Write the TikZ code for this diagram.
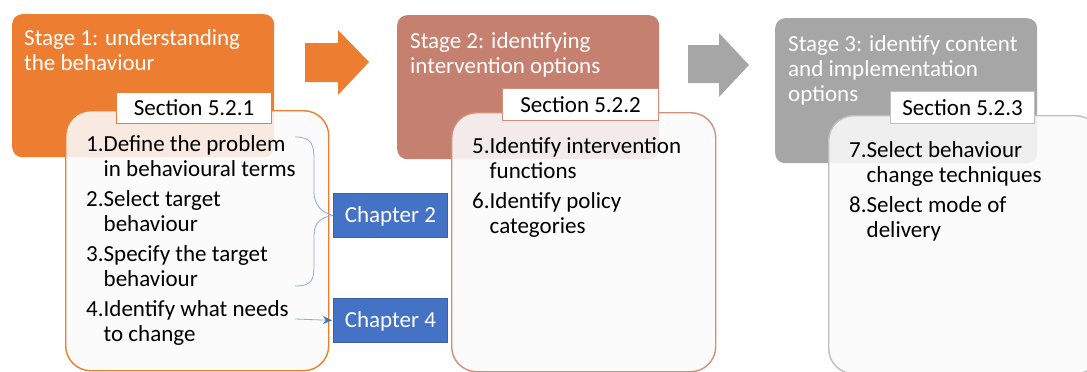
\documentclass[tikz,border=0pt]{standalone}
\usepackage{fontspec}
\setmainfont{Carlito}
\usetikzlibrary{arrows.meta}

\definecolor{orng}{RGB}{237,125,49}
\definecolor{salmon}{RGB}{197,128,111}
\definecolor{salmonline}{RGB}{214,142,124}
\definecolor{stagegray}{RGB}{166,166,166}
\definecolor{grayline}{RGB}{191,191,191}
\definecolor{chblue}{RGB}{68,114,196}
\definecolor{bracecol}{RGB}{143,170,220}

\begin{document}
\begin{tikzpicture}[x=1pt,y=-1pt,
  stagebox/.style={rounded corners=10pt, draw=none, anchor=north west, inner sep=0pt},
  listbox/.style={rounded corners=25pt, line width=1.4pt, fill=black!2, fill opacity=0.88,
    anchor=north west, inner sep=0pt},
  secbox/.style={fill=white, line width=1.2pt, inner sep=0pt, anchor=north west,
    font=\fontsize{23}{25}\selectfont, text height=15pt, text depth=0pt},
  chbox/.style={fill=chblue, draw=chblue!85!black, line width=0.8pt, inner sep=0pt,
    anchor=north west, text=white, minimum width=114, minimum height=44,
    font=\fontsize{23}{25}\selectfont, text height=15pt, text depth=0pt},
  txt/.style={font=\fontsize{23}{25}\selectfont, inner sep=0pt, anchor=base west},
  head/.style={txt, text=white},
  brace/.style={draw=bracecol, line width=0.8pt}
]
\useasboundingbox (0,0) rectangle (1087,372);
\clip (0,0) rectangle (1087,372);

% stage headers
\node[stagebox, fill=orng, minimum width=262, minimum height=143] (st1) at (12,14) {};
\node[stagebox, fill=salmon, minimum width=262, minimum height=144] (st2) at (397,15) {};
\node[stagebox, fill=stagegray, minimum width=262, minimum height=145] (st3) at (775,18) {};

\node[head] (h1a) at (24,45) {Stage 1: understanding};
\node[head] (h1b) at (24,70) {the behaviour};
\node[head] (h2a) at (410,48) {Stage 2: identifying};
\node[head] (h2b) at (410,73) {intervention options};
\node[head] (h3a) at (788,51.5) {Stage 3: identify content};
\node[head] (h3b) at (788,76.5) {and implementation};
\node[head] (h3c) at (788,101.5) {options};

% block arrows between stages
\fill[orng] (305,43) -- (338,43) -- (338,30) -- (369,62) -- (338,95) -- (338,82) -- (305,82) -- cycle;
\fill[stagegray] (688,45) -- (719,45) -- (719,33) -- (749,65) -- (719,97) -- (719,83) -- (688,83) -- cycle;

% step lists
\node[listbox, draw=orng, minimum width=263, minimum height=260] (l1) at (65,110) {};
\node[listbox, draw=salmonline, minimum width=264, minimum height=259] (l2) at (451,112) {};
\node[listbox, draw=grayline, minimum width=272, minimum height=258] (l3) at (828,115) {};

% section labels
\node[secbox, draw=orng, minimum width=155, minimum height=31] (sec1) at (116,92) {Section 5.2.1};
\node[secbox, draw=salmonline, minimum width=156, minimum height=32] (sec2) at (502,88) {Section 5.2.2};
\node[secbox, draw=grayline, minimum width=144, minimum height=32] (sec3) at (890,91) {Section 5.2.3};

% stage 1 steps
\node[txt] (i1a) at (86,151) {1.Define the problem};
\node[txt] (i1b) at (103.5,176) {in behavioural terms};
\node[txt] (i2a) at (86,206) {2.Select target};
\node[txt] (i2b) at (103.5,231) {behaviour};
\node[txt] (i3a) at (86,261) {3.Specify the target};
\node[txt] (i3b) at (103.5,286) {behaviour};
\node[txt] (i4a) at (86,316) {4.Identify what needs};
\node[txt] (i4b) at (103.5,341) {to change};

% stage 2 steps
\node[txt] (i5a) at (472,153) {5.Identify intervention};
\node[txt] (i5b) at (489.5,178) {functions};
\node[txt] (i6a) at (472,208) {6.Identify policy};
\node[txt] (i6b) at (489.5,233) {categories};

% stage 3 steps
\node[txt] (i7a) at (849,157) {7.Select behaviour};
\node[txt] (i7b) at (866.5,182) {change techniques};
\node[txt] (i8a) at (849,212) {8.Select mode of};
\node[txt] (i8b) at (866.5,237) {delivery};

% chapter references
\node[chbox] (ch2) at (333,193) {Chapter 2};
\node[chbox] (ch4) at (333,298) {Chapter 4};

% brace grouping steps 1-3 and arrow from step 4
\coordinate (bt) at (295,137);
\coordinate (bb) at (295,286);
\coordinate (a4) at (295,319);
\draw[brace] (bt) .. controls (312,137) and (314,145) .. (314,160) -- (314,192)
  .. controls (314,205) and (322,213) .. (ch2.west);
\draw[brace] (ch2.west) .. controls (322,217) and (314,222) .. (314,235) -- (314,265)
  .. controls (314,280) and (312,286) .. (bb);
\draw[brace, shorten >=1pt, -{Stealth[length=9pt, width=8pt, color=chblue]}] (a4) -- (ch4.west);
\end{tikzpicture}
\end{document}
